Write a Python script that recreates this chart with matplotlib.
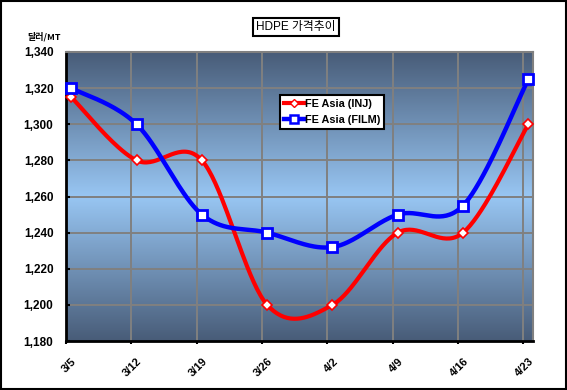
import numpy as np
import matplotlib
matplotlib.use("Agg")
import matplotlib.pyplot as plt
from matplotlib.colors import LinearSegmentedColormap
from matplotlib.patches import Rectangle
from matplotlib.lines import Line2D

dates = ["3/5", "3/12", "3/19", "3/26", "4/2", "4/9", "4/16", "4/23"]
inj = [1315, 1280, 1280, 1200, 1200, 1240, 1240, 1300]
film = [1320, 1300, 1250, 1240, 1232, 1250, 1255, 1325]
yticks = [1180, 1200, 1220, 1240, 1260, 1280, 1300, 1320, 1340]
title = "HDPE 가격추이"
unit = "달러/MT"
names = ["FE Asia (INJ)", "FE Asia (FILM)"]

OFF = 0.08  # data points sit slightly right of the gridlines (Excel date axis)


def smooth(xs, ys, n=40):
    """Excel-style smoothed line (cubic Bezier, Catmull-Rom control points)."""
    P = np.column_stack([xs, ys]).astype(float)
    out = [P[0]]
    for i in range(len(P) - 1):
        p0 = P[i - 1] if i > 0 else P[i]
        p1 = P[i]
        p2 = P[i + 1]
        p3 = P[i + 2] if i + 2 < len(P) else P[i + 1]
        c1 = p1 + (p2 - p0) / 6.0
        c2 = p2 - (p3 - p1) / 6.0
        t = np.linspace(0, 1, n)[1:, None]
        b = ((1 - t) ** 3) * p1 + 3 * ((1 - t) ** 2) * t * c1 + 3 * (1 - t) * t ** 2 * c2 + t ** 3 * p2
        out.extend(b)
    out = np.array(out)
    return out[:, 0], out[:, 1]


fig = plt.figure(figsize=(5.67, 3.90), dpi=100)
fig.patch.set_facecolor("white")
fig.patches.append(Rectangle((0.002, 0.003), 0.996, 0.994, transform=fig.transFigure,
                             fill=False, edgecolor="black", linewidth=1.5))

ax = fig.add_axes([66 / 567, 49 / 390, (533 - 66) / 567, (341 - 52) / 390])

x = np.arange(len(dates)) + OFF
xmax = 7.15
ax.set_xlim(0, xmax)
ax.set_ylim(yticks[0], yticks[-1])

# gradient background
cmap = LinearSegmentedColormap.from_list("bg", ["#485c78", "#98c6f3", "#485c78"])
grad = np.linspace(0, 1, 256)[:, None]
ax.imshow(grad, cmap=cmap, aspect="auto", extent=[0, xmax, yticks[0], yticks[-1]],
          origin="upper", zorder=0)

# grid
for gx in range(1, len(dates)):
    ax.axvline(gx, color="#808080", lw=1.4, zorder=1)
for gy in yticks[1:-1]:
    ax.axhline(gy, color="#808080", lw=1.4, zorder=1)

xs, ys = smooth(x, inj)
ax.plot(xs, ys, color="#ff0000", lw=3, zorder=3, solid_capstyle="round")
ax.plot(x, inj, linestyle="none", marker="D", markersize=5, markerfacecolor="white",
        markeredgecolor="#ff0000", markeredgewidth=1.2, zorder=4, clip_on=False)
xs, ys = smooth(x, film)
ax.plot(xs, ys, color="#0000ff", lw=3.2, zorder=3, solid_capstyle="round")
ax.plot(x, film, linestyle="none", marker="s", markersize=7.5, markerfacecolor="white",
        markeredgecolor="#0000ff", markeredgewidth=2, zorder=5, clip_on=False)

# spines
for s in ["top", "right"]:
    ax.spines[s].set_color("#808080")
    ax.spines[s].set_linewidth(1.5)
for s in ["left", "bottom"]:
    ax.spines[s].set_color("black")
    ax.spines[s].set_linewidth(2)

ax.set_yticks(yticks)
ax.set_yticklabels([f"{v:,}" for v in yticks], fontsize=8.5, fontweight="bold",
                   family="Liberation Sans")
ax.tick_params(axis="y", direction="in", length=3, width=1.5, pad=9)

ax.set_xticks(np.arange(len(dates)))
ax.set_xticklabels([])
ax.tick_params(axis="x", direction="out", length=2, width=1.5)
for i, d in enumerate(dates):
    ax.annotate(d, xy=(i, yticks[0]), xycoords="data", xytext=(4, -11),
                textcoords="offset points", rotation=45, ha="right", va="top",
                rotation_mode="anchor", fontsize=8, fontweight="bold",
                family="Liberation Sans")

fig.text(27 / 567, 1 - 37 / 390, unit, fontsize=6.5, fontweight="bold",
         family=["Noto Sans CJK KR", "DejaVu Sans"], ha="left", va="center")

fig.text(296 / 567, 1 - 27 / 390, title, fontsize=8.5, ha="center", va="center",
         family=["Liberation Sans", "Noto Sans CJK KR"],
         bbox=dict(boxstyle="square,pad=0.25", facecolor="white", edgecolor="black",
                   linewidth=1.5))

h1 = Line2D([], [], color="#ff0000", lw=3, marker="D", markersize=4,
            markerfacecolor="white", markeredgecolor="#ff0000", markeredgewidth=1.0)
h2 = Line2D([], [], color="#0000ff", lw=3.2, marker="s", markersize=5.5,
            markerfacecolor="white", markeredgecolor="#0000ff", markeredgewidth=1.8)
leg = fig.legend([h1, h2], names, loc="upper left",
                 bbox_to_anchor=(280 / 567, 1 - 95 / 390),
                 prop={"family": "Liberation Sans", "size": 7.8, "weight": "bold"},
                 frameon=True, fancybox=False, handlelength=1.9, handletextpad=0.05,
                 borderpad=0.35, labelspacing=0.55, borderaxespad=0)
leg.get_frame().set_edgecolor("black")
leg.get_frame().set_linewidth(1.5)
leg.get_frame().set_alpha(1)

fig.savefig("out.png", dpi=100)
